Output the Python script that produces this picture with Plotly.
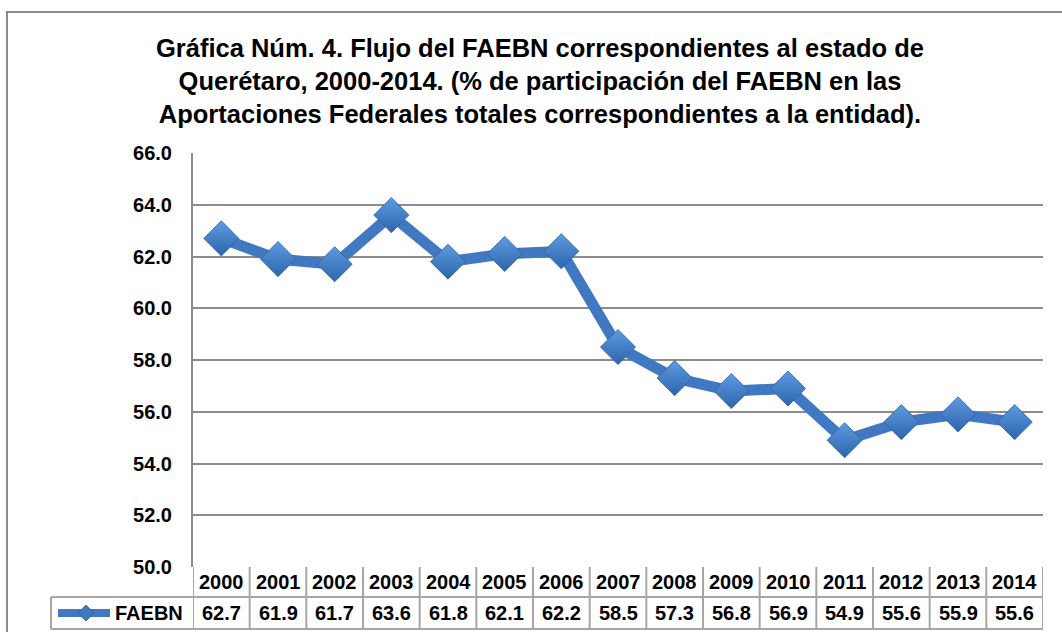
import plotly.graph_objects as go

years = ["2000", "2001", "2002", "2003", "2004", "2005", "2006", "2007",
         "2008", "2009", "2010", "2011", "2012", "2013", "2014"]
faebn = [62.7, 61.9, 61.7, 63.6, 61.8, 62.1, 62.2, 58.5,
         57.3, 56.8, 56.9, 54.9, 55.6, 55.9, 55.6]
series_name = "FAEBN"
y_ticks = [50, 52, 54, 56, 58, 60, 62, 64, 66]

title = ("Gráfica Núm. 4. Flujo del FAEBN correspondientes al estado de<br>"
         "Querétaro, 2000-2014. (% de participación del FAEBN en las<br>"
         "Aportaciones Federales totales correspondientes a la entidad).")

FONT = "Liberation Sans, Arial, sans-serif"
LINE_BLUE = "#4079c2"
GRID = "#8c8c8c"
CELL = "#a6a6a6"
TXT = 20

W, H = 1062, 632
L, R, T, B = 193, 19, 153, 65
PW, PH = W - L - R, H - T - B


def px_x(p):
    return (p - L) / PW


def px_y(p):
    return (H - B - p) / PH


fig = go.Figure()
fig.add_trace(go.Scatter(
    x=list(range(len(years))), y=faebn, mode="lines+markers", name=series_name,
    line=dict(color=LINE_BLUE, width=11),
    marker=dict(symbol="diamond", size=27, color="#5e9be0",
                gradient=dict(type="vertical", color="#2c65ad"),
                line=dict(color="#2d5f9c", width=0.8)),
    showlegend=False,
))

shapes = []
annotations = []

# data table: year row and value row under the plot
row1_top, row1_bot, row2_bot = px_y(H - B), px_y(597), px_y(629)
n = len(years)
cell_font = dict(family=FONT, size=TXT, color="#000")
for i, (yr, v) in enumerate(zip(years, faebn)):
    annotations.append(dict(x=i, y=(row1_top + row1_bot) / 2, xref="x", yref="paper",
                            xanchor="center", yanchor="middle",
                            text=f"<b>{yr}</b>", showarrow=False, font=cell_font))
    annotations.append(dict(x=i, y=(row1_bot + row2_bot) / 2, xref="x", yref="paper",
                            xanchor="center", yanchor="middle",
                            text=f"<b>{v:.1f}</b>", showarrow=False, font=cell_font))
for i in range(n + 1):
    shapes.append(dict(type="line", xref="x", yref="paper", x0=i - 0.5, x1=i - 0.5,
                       y0=row1_top, y1=row2_bot, line=dict(color=CELL, width=2)))
for yy in (row1_bot, row2_bot):
    shapes.append(dict(type="line", xref="paper", yref="paper", x0=px_x(51), x1=1,
                       y0=yy, y1=yy, line=dict(color=CELL, width=2)))
# row header cell
shapes.append(dict(type="line", xref="paper", yref="paper", x0=px_x(51), x1=px_x(51),
                   y0=row1_bot, y1=row2_bot, line=dict(color=CELL, width=2)))
# legend key inside header cell
ky = (row1_bot + row2_bot) / 2
shapes.append(dict(type="line", xref="paper", yref="paper", x0=px_x(58), x1=px_x(110),
                   y0=ky, y1=ky, line=dict(color=LINE_BLUE, width=8)))
cx, dx, dy = px_x(86), 8 / PW, 8 / PH
shapes.append(dict(type="path", xref="paper", yref="paper",
                   path=f"M {cx - dx} {ky} L {cx} {ky + dy} L {cx + dx} {ky} L {cx} {ky - dy} Z",
                   fillcolor="#3f78bf", line=dict(color="#2d5f9c", width=0.8)))
annotations.append(dict(x=px_x(113), y=ky, xref="paper", yref="paper",
                        xanchor="left", yanchor="middle",
                        text=f"<b>{series_name}</b>", showarrow=False, font=cell_font))
# outer chart frame
shapes.append(dict(type="rect", xref="paper", yref="paper", x0=px_x(7), x1=px_x(1075),
                   y0=px_y(645), y1=px_y(12), line=dict(color="#8a8a8a", width=2),
                   layer="below"))

fig.update_layout(
    width=W, height=H,
    margin=dict(l=L, r=R, t=T, b=B, pad=0),
    paper_bgcolor="white", plot_bgcolor="white",
    title=dict(text=f"<b>{title}</b>", x=540 / W, xanchor="center", xref="container",
               y=1 - 57 / H, yanchor="top",
               font=dict(family=FONT, size=25.5, color="#000")),
    xaxis=dict(range=[-0.5, n - 0.5], showticklabels=False, showgrid=False,
               zeroline=False, showline=False, ticks=""),
    yaxis=dict(range=[50, 66], tickvals=y_ticks, ticktext=[f"<b>{t:.1f}</b>" for t in y_ticks],
               showgrid=True, gridcolor=GRID, gridwidth=1.5, zeroline=False,
               showline=True, linecolor=GRID, linewidth=2, ticks="", ticklen=0,
               tickfont=dict(family=FONT, size=TXT, color="#000"),
               ticklabelstandoff=15),
    shapes=shapes, annotations=annotations,
)

fig.write_html("out.html")
